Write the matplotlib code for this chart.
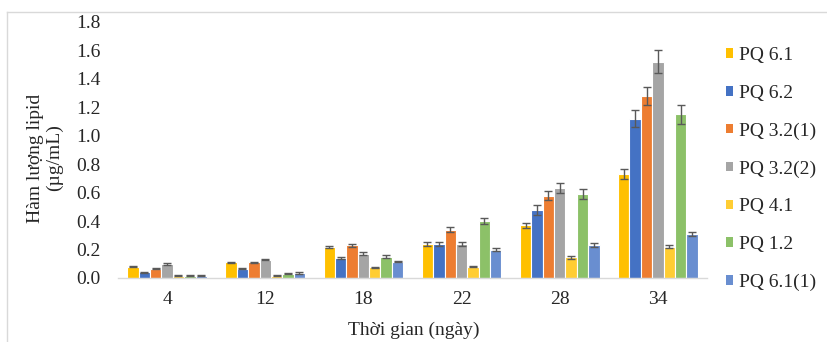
import matplotlib.pyplot as plt
import numpy as np
from matplotlib.lines import Line2D
from matplotlib.patches import Patch

plt.rcParams['font.family'] = ['Liberation Serif', 'DejaVu Serif']

# Lipid content over time for each strain
days = ['4', '12', '18', '22', '28', '34']
strains = ['PQ 6.1', 'PQ 6.2', 'PQ 3.2(1)', 'PQ 3.2(2)', 'PQ 4.1', 'PQ 1.2', 'PQ 6.1(1)']

pq61 = [0.08, 0.11, 0.22, 0.24, 0.37, 0.73]
pq62 = [0.04, 0.065, 0.14, 0.24, 0.48, 1.12]
pq321 = [0.065, 0.11, 0.23, 0.34, 0.58, 1.28]
pq322 = [0.10, 0.13, 0.17, 0.24, 0.63, 1.52]
pq41 = [0.015, 0.015, 0.075, 0.08, 0.145, 0.22]
pq12 = [0.015, 0.03, 0.15, 0.40, 0.59, 1.15]
pq611 = [0.015, 0.035, 0.115, 0.20, 0.23, 0.31]

err61 = [0.006, 0.006, 0.008, 0.015, 0.02, 0.035]
err62 = [0.004, 0.005, 0.005, 0.015, 0.035, 0.06]
err321 = [0.004, 0.005, 0.012, 0.017, 0.035, 0.065]
err322 = [0.006, 0.006, 0.01, 0.015, 0.035, 0.08]
err41 = [0.003, 0.003, 0.005, 0.006, 0.008, 0.012]
err12 = [0.003, 0.004, 0.01, 0.02, 0.035, 0.065]
err611 = [0.003, 0.005, 0.006, 0.012, 0.015, 0.016]

values = [pq61, pq62, pq321, pq322, pq41, pq12, pq611]
errors = [err61, err62, err321, err322, err41, err12, err611]
colors = ['#FFC000', '#4472C4', '#ED7D31', '#A5A5A5', '#FFCD33', '#8CC168', '#698ED0']

text_color = '#262626'
fs = 14

fig = plt.figure(figsize=(8.27, 3.42), dpi=100)
ax = fig.add_axes([118 / 827, (342 - 278) / 342, 589 / 827, 256 / 342])

x = np.arange(len(days))
w = 0.116
for i, (vals, errs, c) in enumerate(zip(values, errors, colors)):
    pos = x + (i - 3) * w
    ax.bar(pos, vals, width=w, color=c, edgecolor='white', linewidth=0.8, zorder=2)
    ax.errorbar(pos, vals, yerr=errs, fmt='none', ecolor='#595959',
                elinewidth=1.0, capsize=3, capthick=1.0, zorder=3)

ax.set_xlim(-0.5, 5.5)
ax.set_ylim(0, 1.8)
ax.set_yticks(np.arange(0, 1.81, 0.2))
ax.set_yticklabels([f'{v:.1f}' for v in np.arange(0, 1.81, 0.2)])
ax.set_xticks(x)
ax.set_xticklabels(days)
ax.tick_params(axis='both', length=0, labelsize=fs, labelcolor=text_color)
ax.tick_params(axis='y', pad=12.5)
ax.tick_params(axis='x', pad=9)

for s in ['top', 'right', 'left']:
    ax.spines[s].set_visible(False)
ax.spines['bottom'].set_color('#D9D9D9')
ax.spines['bottom'].set_linewidth(1.0)

fig.text(45 / 827, (342 - 158) / 342, 'Hàm lượng lipid\n(µg/mL)', rotation=90,
         ha='center', va='center', multialignment='center', linespacing=1.1,
         fontsize=fs, color=text_color)
fig.text(414 / 827, (342 - 330) / 342, 'Thời gian (ngày)', ha='center', va='center',
         fontsize=fs, color=text_color)

handles = [Patch(facecolor=c, edgecolor='none') for c in colors]
fig.legend(handles, strains, loc='center left', bbox_to_anchor=(726 / 827, (342 - 169) / 342),
           frameon=False, fontsize=fs, labelcolor=text_color,
           handlelength=0.38, handleheight=0.38, handletextpad=0.3,
           labelspacing=1.06, borderpad=0, borderaxespad=0)

# chart area outline (top and left edges)
fig.add_artist(Line2D([7 / 827, 826 / 827], [(342 - 12) / 342] * 2,
                      transform=fig.transFigure, color='#D9D9D9', lw=1.0))
fig.add_artist(Line2D([7 / 827] * 2, [0, (342 - 12) / 342],
                      transform=fig.transFigure, color='#D9D9D9', lw=1.0))

fig.savefig('out.png', dpi=100)
